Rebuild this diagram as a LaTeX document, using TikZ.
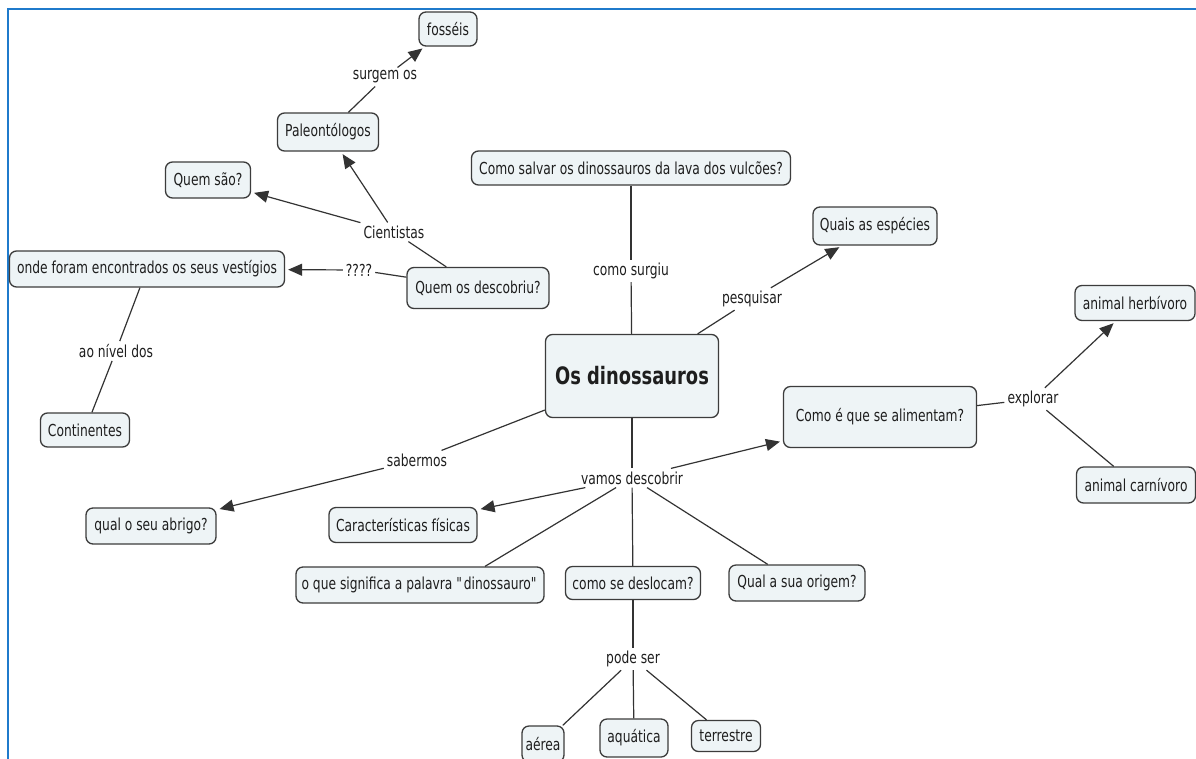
\documentclass[tikz,border=0pt]{standalone}
\usepackage{fontspec}
\setmainfont[FakeStretch=0.745]{DejaVu Sans}
\usetikzlibrary{arrows.meta,calc}
\definecolor{boxfill}{HTML}{EEF4F6}
\definecolor{boxdraw}{HTML}{3C3C3C}
\definecolor{linec}{HTML}{333333}
\definecolor{txt}{HTML}{1E1E1E}
\definecolor{frame}{HTML}{1F7ACB}
\tikzset{
  box/.style={draw=boxdraw, fill=boxfill, rounded corners=7pt, line width=1.3pt,
    text=txt, inner sep=0pt, align=center, font=\fontsize{16.5pt}{19pt}\selectfont},
  lab/.style={inner sep=3pt, text=txt, font=\fontsize{16.5pt}{19pt}\selectfont},
  conn/.style={draw=linec, line width=1.2pt},
  arr/.style={conn, -{Triangle[length=14pt,width=12pt]}, shorten >=3pt}
}
\begin{document}
\begin{tikzpicture}[x=1pt,y=-1pt]
\clip (0,0) rectangle (1196,758);
\fill[white] (0,0) rectangle (1196,758);
\draw[frame, line width=2.6pt] (8,762) -- (8,9) -- (1200,9);

% concept boxes
\node[box, minimum width=58, minimum height=34] (fos) at (448,29) {fosséis};
\node[box, minimum width=101, minimum height=38] (pal) at (328,132) {Paleontólogos};
\node[box, minimum width=85, minimum height=36] (qsao) at (208,180) {Quem são?};
\node[box, minimum width=275, minimum height=36] (onde) at (147,269) {onde foram encontrados os seus vestígios};
\node[box, minimum width=142, minimum height=41] (qdes) at (478,288) {Quem os descobriu?};
\node[box, minimum width=89, minimum height=34] (cont) at (85,430) {Continentes};
\node[box, minimum width=319, minimum height=34] (salv) at (631,168) {Como salvar os dinossauros da lava dos vulcões?};
\node[box, minimum width=124, minimum height=38] (esp) at (875,226) {Quais as espécies};
\node[box, minimum width=173, minimum height=83, font=\fontsize{24pt}{28pt}\selectfont\bfseries] (dino) at (632,376) {Os dinossauros};
\node[box, minimum width=193, minimum height=61] (alim) at (880,417) {Como é que se alimentam?};
\node[box, minimum width=120, minimum height=35] (herb) at (1135,303) {animal herbívoro};
\node[box, minimum width=119, minimum height=36] (carn) at (1136,485) {animal carnívoro};
\node[box, minimum width=130, minimum height=36] (abr) at (151,526) {qual o seu abrigo?};
\node[box, minimum width=148, minimum height=35] (car) at (403,525) {Características físicas};
\node[box, minimum width=248, minimum height=36] (sig) at (420,585) {o que significa a palavra \textquotedbl dinossauro\textquotedbl};
\node[box, minimum width=135, minimum height=33] (desl) at (633,583) {como se deslocam?};
\node[box, minimum width=136, minimum height=36] (orig) at (797,583) {Qual a sua origem?};
\node[box, minimum width=42, minimum height=36] (aer) at (543,744) {aérea};
\node[box, minimum width=68, minimum height=38] (aqu) at (634,738) {aquática};
\node[box, minimum width=69, minimum height=31] (ter) at (726,736) {terrestre};

% linking phrases
\node[lab] (surg) at (385,77) {surgem os};
\node[lab] (cien) at (394,232) {Cientistas};
\node[lab] (qq) at (359,270) {????};
\node[lab] (niv) at (116,351) {ao nível dos};
\node[lab] (csur) at (631,271) {como surgiu};
\node[lab] (pesq) at (752,299) {pesquisar};
\node[lab] (sab) at (417,460) {sabermos};
\node[lab] (vam) at (632,478) {vamos descobrir};
\node[lab] (expl) at (1033,399) {explorar};
\node[lab] (pode) at (633,659) {pode ser};

% connectors
\draw[conn] (pal) -- (surg);
\draw[arr] (surg) -- (fos);
\draw[conn] (qdes) -- (cien);
\draw[arr] (cien) -- (qsao);
\draw[arr] (cien) -- (pal);
\draw[conn] (qdes) -- (qq);
\draw[arr] (qq) -- (onde);
\draw[conn] (onde) -- (niv);
\draw[conn] (niv) -- (cont);
\draw[conn] (salv) -- (csur);
\draw[conn] (csur) -- (dino);
\draw[conn] (dino) -- (pesq);
\draw[arr] (pesq) -- (esp);
\draw[conn] (dino) -- (sab);
\draw[arr] (sab) -- (abr);
\draw[conn] (dino) -- (vam);
\draw[arr] (vam) -- (alim);
\draw[arr] (vam) -- (car);
\draw[conn] (vam) -- ($(sig.north)+(65,0)$);
\draw[conn] (vam) -- (desl);
\draw[conn] (vam) -- (orig);
\draw[conn] (alim) -- (expl);
\draw[arr] (expl) -- (herb);
\draw[conn] (expl) -- (carn);
\draw[conn] (desl) -- (pode);
\draw[conn] (pode) -- (aer);
\draw[conn] (pode) -- (aqu);
\draw[conn] (pode) -- (ter);
\end{tikzpicture}
\end{document}
